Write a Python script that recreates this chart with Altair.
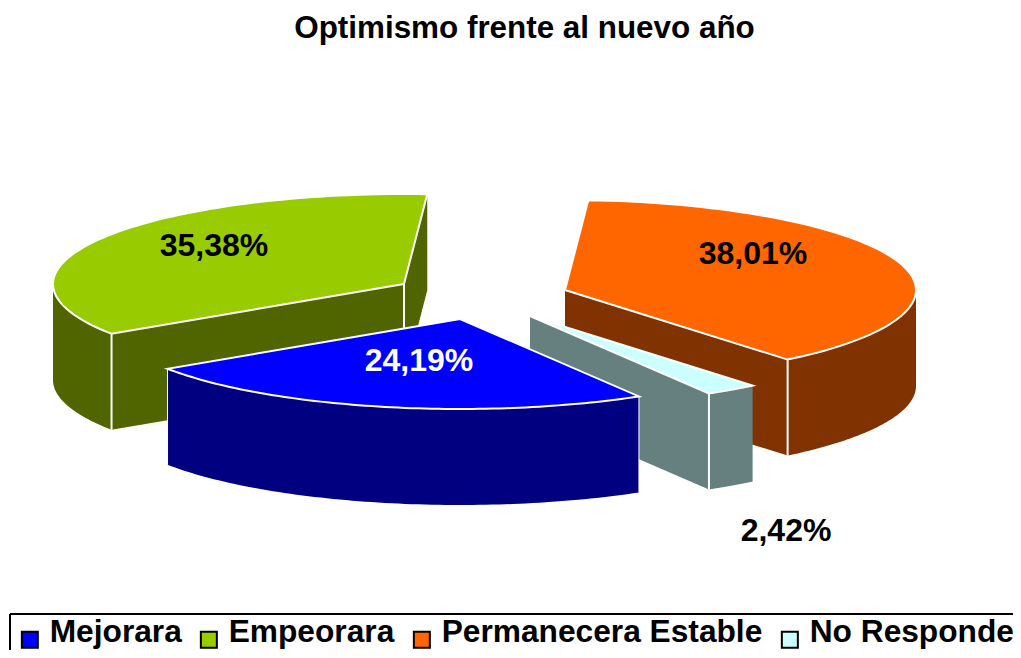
import altair as alt
import numpy as np
import pandas as pd

categories = ["Mejorara", "Empeorara", "Permanecera Estable", "No Responde"]
values = [24.19, 35.38, 38.01, 2.42]
labels = ["24,19%", "35,38%", "38,01%", "2,42%"]
top_colors = ["#0000FF", "#99CC00", "#FF6600", "#CCFFFF"]
side_colors = ["#000080", "#506400", "#803300", "#668080"]
label_colors = ["#FFFFFF", "#000000", "#000000", "#000000"]
label_x = [419, 214, 753, 786]
label_y = [361, 246, 254, 531]
apex_x = [460, 404, 565, 530]
apex_y = [319, 284, 290, 316]

FONT = "Liberation Sans"
RX, RY, DEPTH = 351, 90, 96
W, H = 1005, 642
X = alt.Scale(domain=[8, 8 + W], nice=False, zero=False)
Y = alt.Scale(domain=[8 + H, 8], nice=False, zero=False)

ang = {}
a = -86.2
for i in (2, 3, 0, 1):
    ang[i] = (a, a + values[i] * 3.6)
    a += values[i] * 3.6


def rim(i, t):
    t = np.radians(t)
    return apex_x[i] + RX * np.cos(t), apex_y[i] + RY * np.sin(t)


def poly(pts, fill=None, stroke=None, sw=2):
    df = pd.DataFrame({"x": [p[0] for p in pts], "y": [p[1] for p in pts], "i": range(len(pts))})
    kw = {"strokeWidth": sw, "stroke": stroke if stroke else "transparent"}
    if fill:
        kw["fill"] = fill
    return alt.Chart(df).mark_line(interpolate="linear", clip=False, **kw).encode(
        x=alt.X("x:Q", scale=X, axis=None),
        y=alt.Y("y:Q", scale=Y, axis=None),
        order="i:Q",
    )


def arc(i, a0, a1):
    return [rim(i, t) for t in np.linspace(a0, a1, 80)]


def outer(i, a0, a1):
    up = arc(i, a0, a1)
    return poly(up + [(x, y + DEPTH) for x, y in reversed(up)] + [up[0]], side_colors[i])


def wall(i, t):
    x, y = rim(i, t)
    ax, ay = apex_x[i], apex_y[i]
    return poly([(ax, ay), (x, y), (x, y + DEPTH), (ax, ay + DEPTH), (ax, ay)], side_colors[i])


def top(i):
    ax, ay = apex_x[i], apex_y[i]
    return poly([(ax, ay)] + arc(i, *ang[i]) + [(ax, ay)], top_colors[i], "#FFFFFF", 2)


def seam(i, t, sw=2):
    x, y = rim(i, t)
    return poly([(x, y), (x, y + DEPTH)], None, "#FFFFFF", sw)


layers = []
g = 1
layers += [wall(g, ang[g][1]), wall(g, ang[g][0]), outer(g, ang[g][0], 180), seam(g, ang[g][0]),
           poly([(apex_x[g], apex_y[g]), (apex_x[g], apex_y[g] + DEPTH)], None, "#FFFFFF", 2), top(g)]
o = 2
layers += [wall(o, ang[o][1]), outer(o, 0, ang[o][1]), seam(o, ang[o][1]), top(o)]
c = 3
layers += [wall(c, ang[c][1]), outer(c, ang[c][0], ang[c][1]), seam(c, ang[c][1]), top(c)]
b = 0
layers += [outer(b, ang[b][0], ang[b][1]), seam(b, ang[b][0], 1), seam(b, ang[b][1], 1), top(b)]

text_df = pd.DataFrame({"x": label_x, "y": label_y, "t": labels, "c": label_colors})
text = alt.Chart(text_df).mark_text(font=FONT, fontWeight="bold", fontSize=32, baseline="middle").encode(
    x=alt.X("x:Q", scale=X, axis=None),
    y=alt.Y("y:Q", scale=Y, axis=None),
    text="t:N",
    color=alt.Color("c:N", scale=None, legend=None),
)

box_top = alt.Chart(pd.DataFrame({"a": [0]})).mark_rule(color="#000000", strokeWidth=2).encode(
    x=alt.value(2), x2=alt.value(W), y=alt.value(606))
box_left = alt.Chart(pd.DataFrame({"a": [0]})).mark_rule(color="#000000", strokeWidth=2).encode(
    x=alt.value(2), y=alt.value(606), y2=alt.value(H))

legend_df = pd.DataFrame({"cat": categories})
legend_layer = alt.Chart(legend_df).mark_square(size=0, filled=True).encode(
    x=alt.value(0), y=alt.value(0),
    fill=alt.Fill(
        "cat:N",
        scale=alt.Scale(domain=categories, range=top_colors),
        sort=categories,
        legend=alt.Legend(
            title=None, orient="none", direction="horizontal", columns=4,
            legendX=6, legendY=618, symbolType="M-1,-1.31H1V0.69H-1Z", symbolSize=256,
            symbolStrokeColor="#000000", symbolStrokeWidth=2, symbolOpacity=1,
            labelFont=FONT, labelFontWeight="bold", labelFontSize=31.7, labelColor="#000000",
            labelBaseline="alphabetic",
            labelOffset=4, columnPadding=11, labelLimit=500, padding=0,
        ),
    ),
)

chart = alt.layer(*layers, text, box_top, box_left, legend_layer).properties(
    width=W, height=H, padding=0,
    autosize=alt.AutoSizeParams(type="none"),
    title=alt.TitleParams(
        "Optimismo frente al nuevo año", font=FONT, fontWeight="bold", fontSize=31.4,
        color="#000000", anchor="middle", dx=14, dy=61, baseline="alphabetic", offset=0,
    ),
).configure_view(stroke=None)

chart.save("out.html", embed_options={"renderer": "svg", "actions": False})
